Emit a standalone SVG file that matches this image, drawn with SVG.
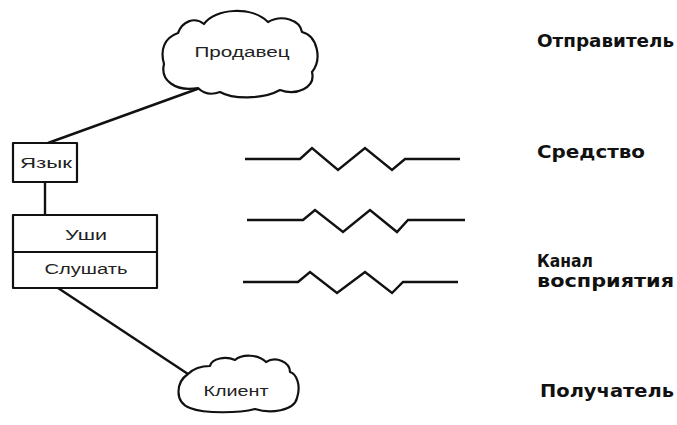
<svg xmlns="http://www.w3.org/2000/svg" width="677" height="425" viewBox="0 0 677 425">
<style>
.s{fill:#fff;stroke:#111;stroke-width:2.2;stroke-linejoin:round}
.c{fill:none;stroke:#111;stroke-width:2.4;stroke-linejoin:miter}
.t{font-family:"Liberation Sans",Arial,sans-serif;font-size:14px;fill:#222;text-anchor:middle}
.b{font-family:"DejaVu Sans","Liberation Sans",sans-serif;font-size:18px;font-weight:bold;fill:#111}
</style>
<rect width="677" height="425" fill="#fff"/>
<g id="connectors">
<path class="c" d="M200,88 L48,143"/>
<path class="c" d="M45,182 L45,215"/>
<path class="c" d="M58,288 L188,374"/>
<path class="c" d="M245,159 L300,159 L312,148 L338,170 L365,148 L392,170 L405,159 L460,159"/>
<path class="c" d="M247,220 L303,220 L315,210 L343,232 L370,210 L397,232 L408,220 L465,220"/>
<path class="c" d="M243,282 L298,282 L310,272 L337,293 L365,272 L392,293 L403,282 L458,282"/>
</g>
<g id="seller">
<path class="s" d="M198,88 C175,92 160,80 164,64 C160,50 164,38 178,33 C182,22 194,16 204,24 C215,8 252,6 268,22 C282,14 300,20 302,32 C318,36 322,60 312,72 C316,88 296,96 280,90 C262,100 232,99 220,92 C212,95 204,94 198,88 Z"/>
<text class="t" x="242" y="57" font-size="15" textLength="95" lengthAdjust="spacingAndGlyphs">Продавец</text>
</g>
<g id="lang">
<rect class="s" x="13" y="143" width="64" height="39"/>
<text class="t" x="46" y="168" textLength="52" lengthAdjust="spacingAndGlyphs">Язык</text>
</g>
<g id="ears">
<rect class="s" x="13" y="215" width="144" height="37"/>
<text class="t" x="86" y="240" textLength="42" lengthAdjust="spacingAndGlyphs">Уши</text>
</g>
<g id="listen">
<rect class="s" x="13" y="252" width="144" height="36"/>
<text class="t" x="86" y="274" textLength="83" lengthAdjust="spacingAndGlyphs">Слушать</text>
</g>
<g id="client">
<path class="s" d="M188,374 C176,382 174,402 190,408 C205,414 240,413 255,409 C270,414 294,411 297,398 C301,386 297,374 290,372 C290,362 276,356 266,362 C258,354 242,354 235,360 C226,356 212,358 210,366 C202,366 194,368 188,374 Z"/>
<text class="t" x="236" y="396" textLength="65" lengthAdjust="spacingAndGlyphs">Клиент</text>
</g>
<g id="labels">
<text class="b" x="537" y="47" textLength="137" lengthAdjust="spacingAndGlyphs">Отправитель</text>
<text class="b" x="537" y="158" textLength="108" lengthAdjust="spacingAndGlyphs">Средство</text>
<text class="b" x="537" y="267" font-size="17" textLength="56" lengthAdjust="spacingAndGlyphs">Канал</text>
<text class="b" x="537" y="287" font-size="17" textLength="137" lengthAdjust="spacingAndGlyphs">восприятия</text>
<text class="b" x="540" y="397" textLength="134" lengthAdjust="spacingAndGlyphs">Получатель</text>
</g>
</svg>
